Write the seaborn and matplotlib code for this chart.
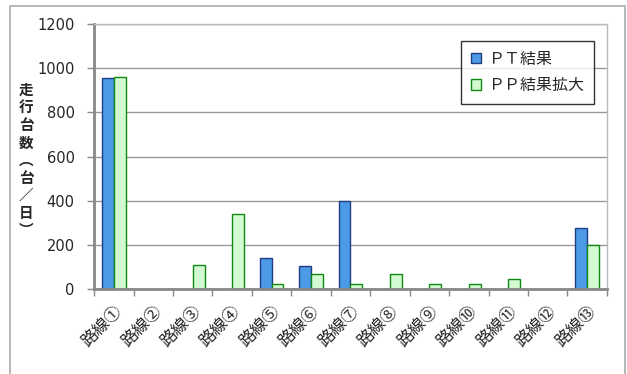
import numpy as np
import pandas as pd
import matplotlib
matplotlib.use('Agg')
import matplotlib.pyplot as plt
import seaborn as sns
from matplotlib.patches import Rectangle

sns.set_style('white')
plt.rcParams['font.family'] = ['Noto Sans CJK JP', 'DejaVu Sans']

routes = ['路線①', '路線②', '路線③', '路線④', '路線⑤', '路線⑥', '路線⑦',
          '路線⑧', '路線⑨', '路線⑩', '路線⑪', '路線⑫', '路線⑬']
pt_vals = [955, 0, 0, 0, 140, 104, 400, 0, 0, 0, 0, 0, 277]
pp_vals = [960, 0, 108, 338, 22, 69, 22, 68, 22, 22, 47, 0, 200]
series = ['ＰＴ結果', 'ＰＰ結果拡大']
y_ticks = [0, 200, 400, 600, 800, 1000, 1200]
y_label = ['走', '行', '台', '数', '︵', '台', '／', '日', '︶']

df = pd.DataFrame({
    'route': routes * 2,
    'value': pt_vals + pp_vals,
    'series': [series[0]] * len(routes) + [series[1]] * len(routes),
})

fills = ['#3399FF', '#CCFFCC']
edges = ['#1F3F80', '#118811']

fig = plt.figure(figsize=(6.27, 3.74), dpi=100)
ax = fig.add_axes([0.150, 0.227, 0.818, 0.709])

sns.barplot(data=df, x='route', y='value', hue='series', palette=fills,
            width=0.6, ax=ax, legend=True)
for cont, ec in zip(ax.containers, edges):
    for b in cont:
        b.set_edgecolor(ec)
        b.set_linewidth(1.0)
        if b.get_height() == 0:
            b.set_visible(False)

ax.set_ylim(0, 1200)
ax.set_xlim(-0.5, len(routes) - 0.5)
ax.set_yticks(y_ticks)
ax.set_yticklabels([str(t) for t in y_ticks], fontsize=10.5, family=['DejaVu Sans'])
ax.yaxis.grid(True, color='#9A9A9A', linewidth=1)
ax.set_axisbelow(True)
ax.tick_params(axis='y', direction='out', length=5, width=1, color='#888888', left=True, pad=9)

ax.set_xticks(np.arange(len(routes)))
ax.set_xticklabels(routes, rotation=45, ha='right', rotation_mode='anchor', fontsize=12)
ax.tick_params(axis='x', which='major', length=0, pad=10)
ax.set_xticks(np.arange(-0.5, len(routes)), minor=True)
ax.tick_params(axis='x', which='minor', direction='out', length=5, width=1, color='#888888', bottom=True)

for s in ['left', 'bottom']:
    ax.spines[s].set_color('#888888')
    ax.spines[s].set_linewidth(2)
for s in ['top', 'right']:
    ax.spines[s].set_color('#BBBBBB')
    ax.spines[s].set_linewidth(1)

ax.set_xlabel('')
ax.set_ylabel('')
fig.text(26 / 627, 1 - 160 / 374, '\n'.join(y_label), ha='center', va='center',
         fontsize=10.5, fontweight='bold', linespacing=1.12)

leg = ax.legend(loc='upper right', bbox_to_anchor=(0.975, 0.936), fontsize=11.5,
                frameon=True, fancybox=False, edgecolor='black', handlelength=0.6,
                handleheight=0.6, handletextpad=0.5, labelspacing=0.6, borderpad=0.6,
                borderaxespad=0)
leg.get_frame().set_linewidth(1)
for h, ec in zip(leg.legend_handles, edges):
    h.set_edgecolor(ec)

fig.patches.append(Rectangle((10 / 627, -0.05), 615 / 627, 1.034, transform=fig.transFigure,
                             fill=False, edgecolor='#AAAAAA', linewidth=1.2))

fig.savefig('out.png', dpi=100)
